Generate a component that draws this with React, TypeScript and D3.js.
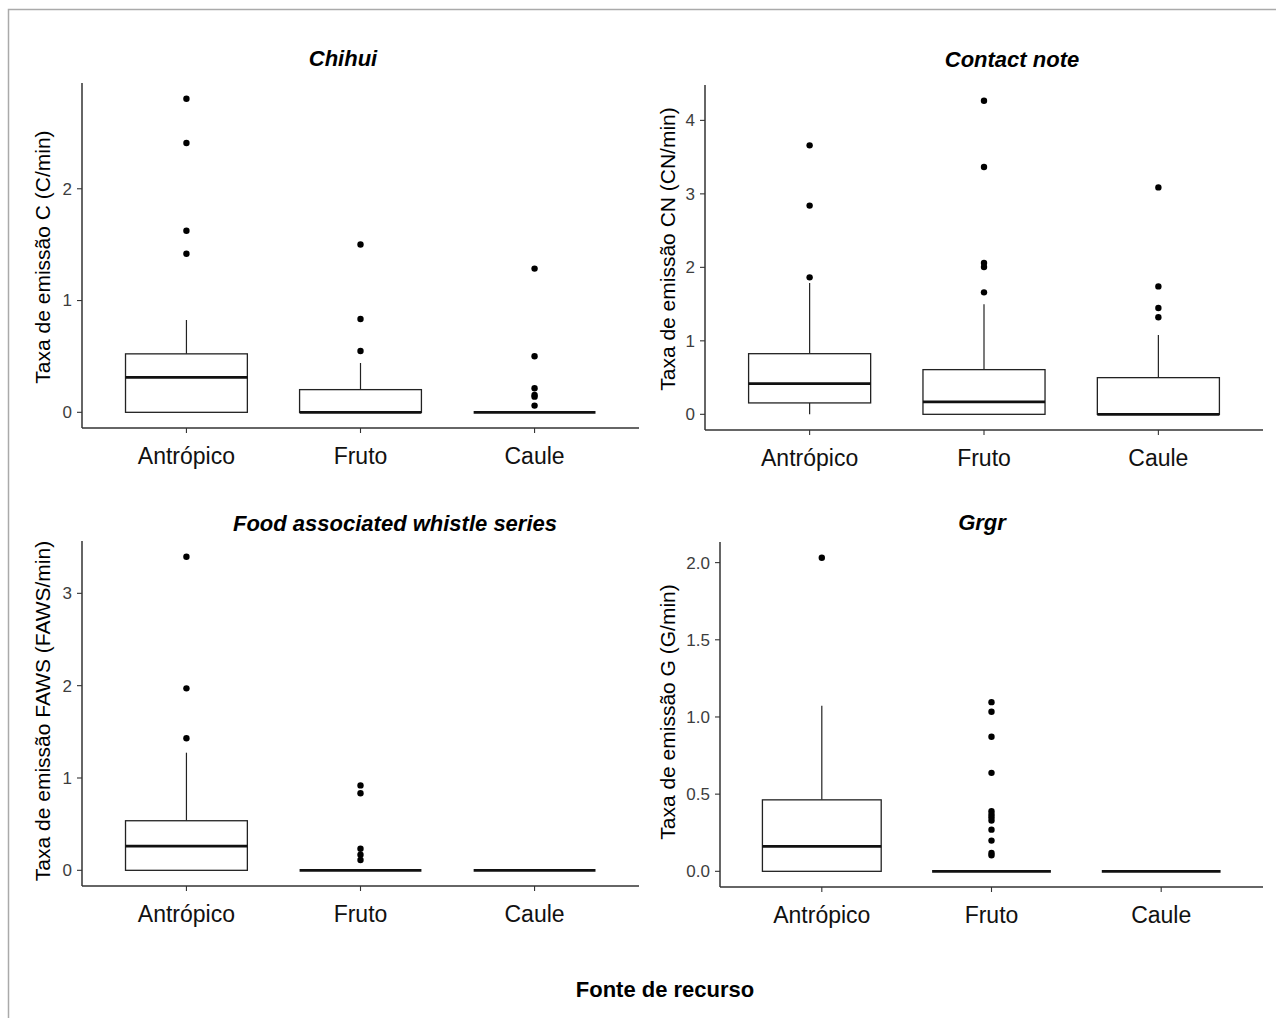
import React from "react";
import * as d3 from "d3";

// ---------- DATA ----------
const categories = ["Antrópico", "Fruto", "Caule"];

// box stats per category: [lower whisker, q1, median, q3, upper whisker]
const chihuiStats = [
  [0, 0, 0.313, 0.523, 0.826],
  [0, 0, 0, 0.203, 0.441],
  [0, 0, 0, 0, 0],
];
const chihuiOutliers = [
  [2.806, 2.409, 1.624, 1.418],
  [1.501, 0.835, 0.549],
  [1.286, 0.501, 0.215, 0.155, 0.14, 0.06],
];

const contactStats = [
  [0, 0.155, 0.417, 0.825, 1.786],
  [0, 0, 0.168, 0.608, 1.497],
  [0, 0, 0, 0.499, 1.079],
];
const contactOutliers = [
  [3.66, 2.84, 1.864],
  [4.268, 3.365, 2.059, 2.004, 1.66],
  [3.088, 1.741, 1.446, 1.32],
];

const fawsStats = [
  [0, 0, 0.263, 0.537, 1.274],
  [0, 0, 0, 0, 0],
  [0, 0, 0, 0, 0],
];
const fawsOutliers = [
  [3.397, 1.971, 1.43],
  [0.92, 0.834, 0.234, 0.169, 0.112],
  [],
];

const grgrStats = [
  [0, 0, 0.162, 0.463, 1.072],
  [0, 0, 0, 0, 0],
  [0, 0, 0, 0, 0],
];
const grgrOutliers = [
  [2.032],
  [1.096, 1.034, 0.872, 0.638, 0.389, 0.368, 0.35, 0.329, 0.27, 0.199, 0.119, 0.104],
  [],
];

const chihuiTicks = [0, 1, 2];
const contactTicks = [0, 1, 2, 3, 4];
const fawsTicks = [0, 1, 2, 3];
const grgrTicks = [0, 0.5, 1, 1.5, 2];

const panelTitles = ["Chihui", "Contact note", "Food associated whistle series", "Grgr"];
const yTitles = [
  "Taxa de emissão C (C/min)",
  "Taxa de emissão CN (CN/min)",
  "Taxa de emissão FAWS (FAWS/min)",
  "Taxa de emissão G (G/min)",
];
const xTitle = "Fonte de recurso";

// ---------- LAYOUT ----------
const W = 1276;
const H = 1018;
const layout = [
  { left: 82, right: 639, top: 83, bottom: 428, titleX: 343, titleY: 66, yTitleX: 50, yTitleY: 257, fmt: "d" },
  { left: 705, right: 1263, top: 85, bottom: 430, titleX: 1012, titleY: 67, yTitleX: 675, yTitleY: 249, fmt: "d" },
  { left: 82, right: 639, top: 541, bottom: 886, titleX: 395, titleY: 531, yTitleX: 50, yTitleY: 711, fmt: "d" },
  { left: 720, right: 1263, top: 542, bottom: 887, titleX: 982, titleY: 530, yTitleX: 675, yTitleY: 712, fmt: ".1f" },
];
const panelStats = [chihuiStats, contactStats, fawsStats, grgrStats];
const panelOutliers = [chihuiOutliers, contactOutliers, fawsOutliers, grgrOutliers];
const panelTicks = [chihuiTicks, contactTicks, fawsTicks, grgrTicks];

const FONT = "'Liberation Sans', Arial, Helvetica, sans-serif";
const AXIS = "#333333";
const TICKTEXT = "#3d3d3d";

function Panel({ idx }: { idx: number }) {
  const L = layout[idx];
  const stats = panelStats[idx];
  const outs = panelOutliers[idx];
  const ticks = panelTicks[idx];

  const allVals = [...stats.flat(), ...outs.flat()];
  const [mn, mx] = d3.extent(allVals) as [number, number];
  const pad = (mx - mn) * 0.05;
  const y = d3.scaleLinear().domain([mn - pad, mx + pad]).range([L.bottom, L.top]);
  const x = d3.scalePoint<string>().domain(categories).range([L.left, L.right]).padding(0.6);
  const step = x.step();
  const bw = step * 0.7;
  const fmt = d3.format(L.fmt);

  return (
    <g>
      <text
        x={L.titleX}
        y={L.titleY}
        textAnchor="middle"
        fontFamily={FONT}
        fontWeight="bold"
        fontStyle="italic"
        fontSize={22}
        fill="#000"
      >
        {panelTitles[idx]}
      </text>
      <text
        transform={`translate(${L.yTitleX},${L.yTitleY}) rotate(-90)`}
        textAnchor="middle"
        fontFamily={FONT}
        fontSize={21}
        fill="#000"
      >
        {yTitles[idx]}
      </text>

      {/* boxes */}
      {categories.map((c, i) => {
        const [lo, q1, med, q3, hi] = stats[i];
        const cx = x(c) as number;
        return (
          <g key={c}>
            {hi > q3 && <line x1={cx} x2={cx} y1={y(q3)} y2={y(hi)} stroke="#222" strokeWidth={1.2} />}
            {lo < q1 && <line x1={cx} x2={cx} y1={y(q1)} y2={y(lo)} stroke="#222" strokeWidth={1.2} />}
            <rect
              x={cx - bw / 2}
              y={y(q3)}
              width={bw}
              height={Math.max(0, y(q1) - y(q3))}
              fill="#fff"
              stroke="#222"
              strokeWidth={1.3}
            />
            <line x1={cx - bw / 2} x2={cx + bw / 2} y1={y(med)} y2={y(med)} stroke="#111" strokeWidth={2.7} />
            {outs[i].map((v, k) => (
              <circle key={k} cx={cx} cy={y(v)} r={3.2} fill="#000" />
            ))}
          </g>
        );
      })}

      {/* y axis */}
      <line x1={L.left} x2={L.left} y1={L.top} y2={L.bottom} stroke={AXIS} strokeWidth={1.5} />
      {ticks.map((t) => (
        <g key={t}>
          <line x1={L.left - 5} x2={L.left} y1={y(t)} y2={y(t)} stroke={AXIS} strokeWidth={1.1} />
          <text
            x={L.left - 10}
            y={y(t)}
            dy="0.35em"
            textAnchor="end"
            fontFamily={FONT}
            fontSize={17}
            fill={TICKTEXT}
          >
            {fmt(t)}
          </text>
        </g>
      ))}

      {/* x axis */}
      <line x1={L.left} x2={L.right} y1={L.bottom} y2={L.bottom} stroke={AXIS} strokeWidth={1.5} />
      {categories.map((c) => (
        <g key={c}>
          <line x1={x(c)} x2={x(c)} y1={L.bottom} y2={L.bottom + 5} stroke={AXIS} strokeWidth={1.1} />
          <text
            x={x(c)}
            y={L.bottom + 36}
            textAnchor="middle"
            fontFamily={FONT}
            fontSize={23}
            fill="#111"
          >
            {c}
          </text>
        </g>
      ))}
    </g>
  );
}

export default function App() {
  return (
    <svg
      width={W}
      height={H}
      style={{ position: "absolute", left: 0, top: 0, background: "#fff" }}
    >
      <rect x={0} y={0} width={W} height={H} fill="#fff" />
      <rect x={8.5} y={9.5} width={W + 20} height={H + 20} fill="none" stroke="#aaaaaa" strokeWidth={1.5} />
      {[0, 1, 2, 3].map((i) => (
        <Panel key={i} idx={i} />
      ))}
      <text
        x={665}
        y={997}
        textAnchor="middle"
        fontFamily={FONT}
        fontWeight="bold"
        fontSize={22}
        fill="#000"
      >
        {xTitle}
      </text>
    </svg>
  );
}
